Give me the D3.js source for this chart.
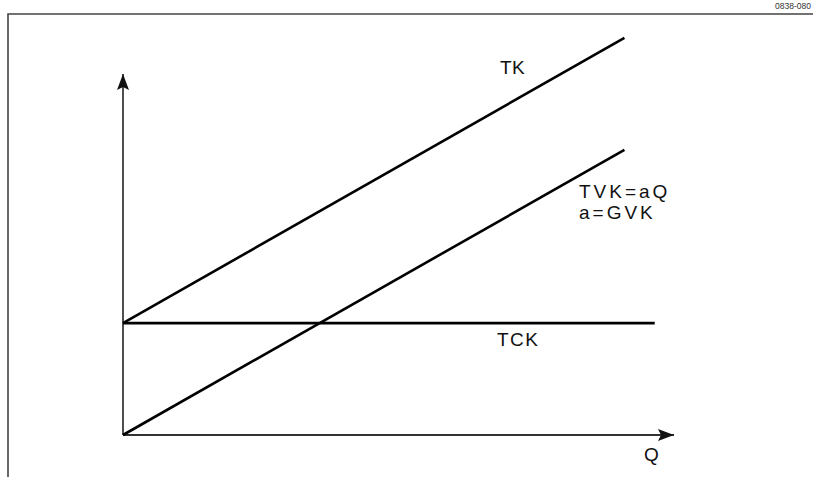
<!DOCTYPE html>
<html>
<head>
<meta charset="utf-8">
<script src="https://cdn.jsdelivr.net/npm/d3@7"></script>
<style>
  html, body { margin: 0; padding: 0; background: #fff; }
  svg { display: block; font-family: "Liberation Sans", Arial, sans-serif; }
</style>
</head>
<body>
<svg id="chart"></svg>
<script>
// Data (axis units 0..100)
const quantity = [0, 91];
const totalVariableCost = [0, 79];
const totalCost = [31, 110];
const fixedQuantity = [0, 96.5];
const fixedCost = [31, 31];
const lineLabels = ["TK", "TCK"];
const tvkLabel = ["TVK=aQ", "a=GVK"];
const axisLabel = "Q";
const figureCode = "0838-080";

const width = 813, height = 477;
const svg = d3.select("#chart").attr("width", width).attr("height", height);

// Frame
svg.append("path")
  .attr("d", `M8,${height} L8,14 L${width},14`)
  .attr("fill", "none")
  .attr("stroke", "#444")
  .attr("stroke-width", 1.6);

svg.append("text")
  .attr("x", 811).attr("y", 9)
  .attr("text-anchor", "end")
  .attr("font-size", 8.5)
  .attr("fill", "#333")
  .text(figureCode);

// Scales
const x = d3.scaleLinear().domain([0, 100]).range([123, 674]);
const y = d3.scaleLinear().domain([0, 100]).range([435, 74]);

// Arrow marker
const defs = svg.append("defs");
defs.append("marker")
  .attr("id", "arrow")
  .attr("viewBox", "0 0 16 12")
  .attr("refX", 16).attr("refY", 6)
  .attr("markerWidth", 16).attr("markerHeight", 12)
  .attr("markerUnits", "userSpaceOnUse")
  .attr("orient", "auto")
  .append("path")
  .attr("d", "M0,0 L16,6 L0,12 L3,6 Z")
  .attr("fill", "#111");

// Axes
svg.append("line")
  .attr("x1", x(0)).attr("y1", y(0))
  .attr("x2", x(0)).attr("y2", y(100))
  .attr("stroke", "#222").attr("stroke-width", 1.6)
  .attr("marker-end", "url(#arrow)");

svg.append("line")
  .attr("x1", x(0)).attr("y1", y(0))
  .attr("x2", x(100)).attr("y2", y(0))
  .attr("stroke", "#333").attr("stroke-width", 1.8)
  .attr("marker-end", "url(#arrow)");

// Lines
const line = d3.line().x(d => x(d[0])).y(d => y(d[1]));
const series = [
  d3.zip(quantity, totalCost),
  d3.zip(quantity, totalVariableCost),
  d3.zip(fixedQuantity, fixedCost)
];
svg.selectAll(".cost")
  .data(series)
  .enter().append("path")
  .attr("class", "cost")
  .attr("d", line)
  .attr("fill", "none")
  .attr("stroke", "#000")
  .attr("stroke-width", 2.6);

// Labels
const label = (tx, ty, txt, spacing) => svg.append("text")
  .attr("x", tx).attr("y", ty)
  .attr("font-size", 19)
  .attr("fill", "#111")
  .attr("letter-spacing", spacing || 0)
  .text(txt);

label(500, 74, lineLabels[0], 0.5);
label(497, 346, lineLabels[1], 1.5);
label(579, 198, tvkLabel[0], 3);
label(579, 219, tvkLabel[1], 3);
label(644, 461, axisLabel);
</script>
</body>
</html>
